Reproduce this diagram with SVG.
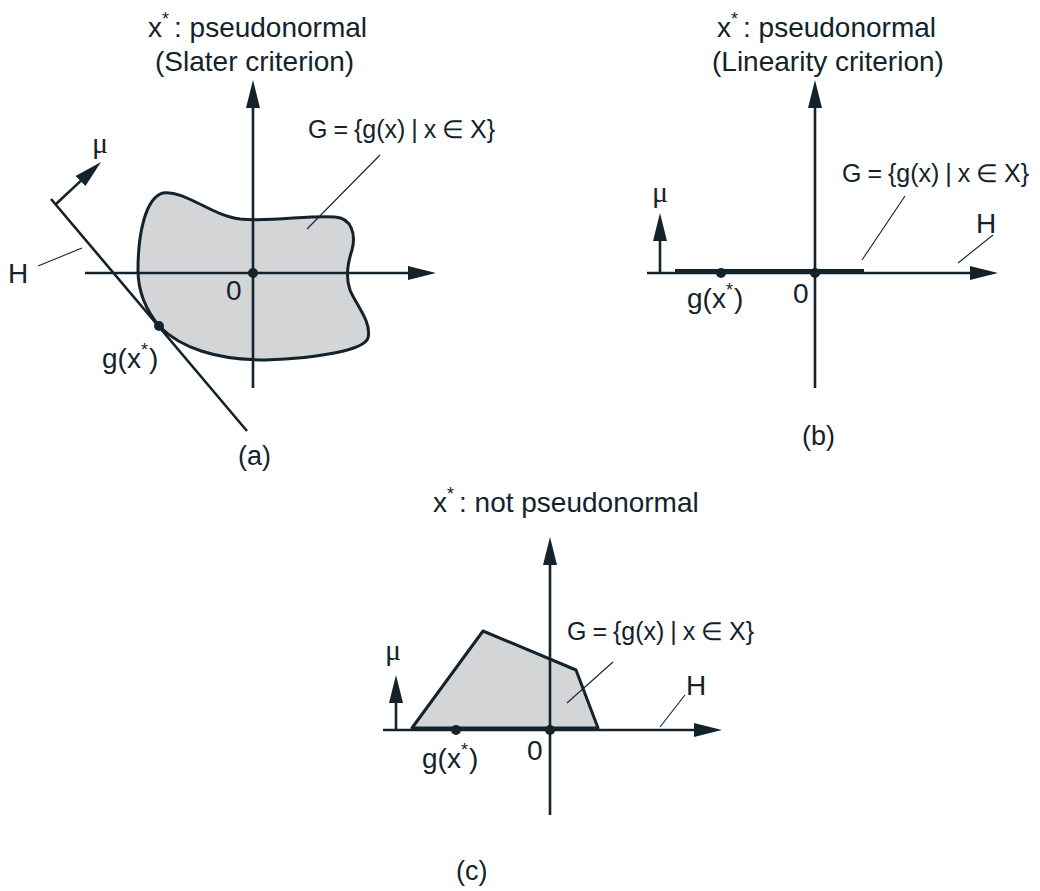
<svg xmlns="http://www.w3.org/2000/svg" width="1040" height="891" viewBox="0 0 1040 891">
<style>
text{font-family:"Liberation Sans",Arial,sans-serif;font-size:28px;fill:#14232b}
.lbl{font-size:27px}
.gl{font-size:25px;word-spacing:-1px}
.mu{font-family:"Liberation Serif","Times New Roman",serif;font-size:30px}
.sup{font-size:18px}
.ax{stroke:#14232b;stroke-width:2.6;fill:none}
.arr{stroke:#14232b;stroke-width:2.6;fill:none;marker-end:url(#ah)}
.ld{stroke:#14232b;stroke-width:1.1;fill:none}
.reg{fill:#d3d5d7;stroke:#14232b;stroke-width:3;stroke-linejoin:round}
.dot{fill:#14232b}
</style>
<defs>
<marker id="ah" markerUnits="userSpaceOnUse" markerWidth="28" markerHeight="14" refX="8" refY="7" orient="auto">
<path d="M0,0 L28,7 L0,14 z" fill="#14232b"/>
</marker>
</defs>

<g id="panel-a">
<g id="a-title">
<text x="148" y="37">x<tspan class="sup" dy="-12">*</tspan><tspan dy="12" dx="5">: pseudonormal</tspan></text>
<text x="155" y="71">(Slater criterion)</text>
</g>
<g id="a-region">
<path class="reg" d="M163,193 C185,190 210,215 240,219 C270,222 310,215 335,217 C352,218 356,235 352,250 C348,262 345,276 350,290 C356,305 372,322 368,338 C364,350 320,358 265,360 C215,360 180,347 160,327 C148,313 138,295 138,270 C138,235 145,198 163,193 Z"/>
</g>
<g id="a-connectors">
<line class="arr" x1="253" y1="388" x2="253" y2="100"/>
<line class="arr" x1="85" y1="273" x2="416" y2="273"/>
<line class="ax" x1="51" y1="199" x2="247" y2="431"/>
<line class="arr" x1="56" y1="204" x2="86.4" y2="175.6"/>
<line class="ld" x1="38" y1="266" x2="82" y2="248"/>
<line class="ld" x1="307" y1="229" x2="380" y2="155"/>
</g>
<circle class="dot" cx="253" cy="273" r="5"/>
<circle class="dot" cx="159" cy="326" r="5"/>
<text x="308" y="138" class="gl">G = {g(x) | x ∈ X}</text>
<text x="92" y="153" class="mu">μ</text>
<text x="8" y="283">H</text>
<text x="226" y="300">0</text>
<text x="102" y="368">g(x<tspan class="sup" dy="-12">*</tspan><tspan dy="12" dx="1">)</tspan></text>
<text x="238" y="465" class="lbl">(a)</text>
</g>

<g id="panel-b">
<g id="b-title">
<text x="717" y="37">x<tspan class="sup" dy="-12">*</tspan><tspan dy="12" dx="5">: pseudonormal</tspan></text>
<text x="712" y="71">(Linearity criterion)</text>
</g>
<g id="b-connectors">
<line class="arr" x1="815" y1="388" x2="815" y2="100"/>
<line class="arr" x1="647" y1="273" x2="978" y2="273"/>
<line class="ax" x1="675" y1="270.5" x2="864" y2="270.5" style="stroke-width:3.2"/>
<line class="arr" x1="660" y1="273" x2="660" y2="233"/>
<line class="ld" x1="905" y1="196" x2="862" y2="260"/>
<line class="ld" x1="993" y1="235" x2="958" y2="263"/>
</g>
<circle class="dot" cx="721" cy="273" r="5"/>
<circle class="dot" cx="815" cy="273" r="5"/>
<text x="842" y="182" class="gl">G = {g(x) | x ∈ X}</text>
<text x="652" y="202" class="mu">μ</text>
<text x="976" y="233">H</text>
<text x="793" y="303">0</text>
<text x="687" y="308">g(x<tspan class="sup" dy="-12">*</tspan><tspan dy="12" dx="1">)</tspan></text>
<text x="802" y="445" class="lbl">(b)</text>
</g>

<g id="panel-c">
<g id="c-title">
<text x="433" y="512">x<tspan class="sup" dy="-12">*</tspan><tspan dy="12" dx="5">: not pseudonormal</tspan></text>
</g>
<g id="c-region">
<polygon class="reg" points="412,728 483,631 576,670 598,728"/>
</g>
<g id="c-connectors">
<line class="arr" x1="550" y1="815" x2="550" y2="557"/>
<line class="arr" x1="383" y1="730" x2="702" y2="730"/>
<line class="arr" x1="396" y1="730" x2="396" y2="695"/>
<line class="ld" x1="613" y1="662" x2="567" y2="703"/>
<line class="ld" x1="685" y1="695" x2="660" y2="727"/>
</g>
<circle class="dot" cx="456" cy="730" r="5"/>
<circle class="dot" cx="550" cy="730" r="5"/>
<text x="567" y="640" class="gl">G = {g(x) | x ∈ X}</text>
<text x="385" y="660" class="mu">μ</text>
<text x="686" y="695">H</text>
<text x="527" y="760">0</text>
<text x="422" y="768">g(x<tspan class="sup" dy="-12">*</tspan><tspan dy="12" dx="1">)</tspan></text>
<text x="456" y="880" class="lbl">(c)</text>
</g>
</svg>
